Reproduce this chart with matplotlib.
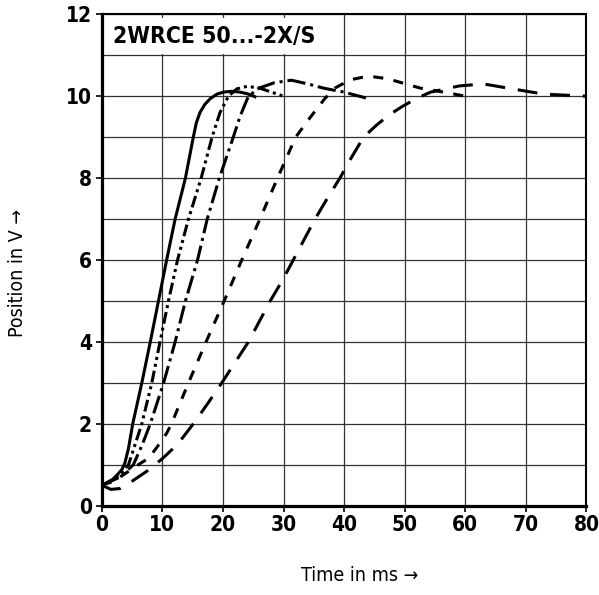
import matplotlib
matplotlib.use("Agg")
import matplotlib.pyplot as plt
from matplotlib import font_manager
from matplotlib.patches import Rectangle

# pick a narrow face that also has a bold weight, if one is installed
narrow_fonts = [f for f in font_manager.fontManager.ttflist
                if "Narrow" in f.name or "Condensed" in f.name
                or f.stretch in ("condensed", "semi-condensed", 75, 87.5)]
bold_names = sorted({f.name for f in narrow_fonts
                     if f.weight in ("bold", 700, "semibold", 600) and f.style == "normal"})
preferred = ["Liberation Sans Narrow", "DejaVu Sans", "Roboto Condensed", "Noto Sans",
             "Open Sans", "Lato", "Inter", "Roboto"]
family = [n for n in preferred if n in bold_names] + bold_names
plt.rcParams['font.family'] = family[:1] + ['DejaVu Sans']
plt.rcParams['font.stretch'] = 'condensed'

# Step responses (time in ms, position in V)
solid_t = [0, 1.5, 2.5, 3.3, 3.8, 4.4, 5.1, 6.6, 8.0, 9.35, 10.7, 12.1, 13.8, 15.1,
           15.6, 16.2, 17.0, 17.9, 19.0, 20.1, 21.5, 22.8, 24.0, 24.8, 25.5]
solid_v = [0.5, 0.6, 0.75, 0.88, 1.04, 1.4, 2.0, 3.0, 4.0, 5.0, 6.0, 7.0, 8.0, 9.0,
           9.35, 9.6, 9.8, 9.94, 10.05, 10.1, 10.12, 10.1, 10.06, 10.02, 9.97]

ddot_t = [0, 2.5, 4.4, 5.5, 6.6, 8.25, 9.6, 11.0, 12.5, 14.3, 16.4, 18.2, 19.5, 20.9,
          22.3, 24.0, 26.0, 28.0, 30.0]
ddot_v = [0.5, 0.7, 1.0, 1.5, 2.0, 3.0, 4.0, 5.0, 6.0, 7.0, 8.0, 9.0, 9.6, 10.0,
          10.18, 10.24, 10.2, 10.1, 10.0]

dashdot_t = [0, 3.0, 5.2, 6.7, 8.0, 10.2, 12.1, 13.8, 15.8, 17.4, 19.4, 21.7, 22.8,
             24.2, 26.0, 28.5, 31.3, 34.0, 36.5, 38.2, 40.0, 42.0, 44.0]
dashdot_v = [0.5, 0.7, 1.0, 1.5, 2.0, 3.0, 4.0, 5.0, 6.0, 7.0, 8.0, 9.0, 9.5,
             10.0, 10.2, 10.33, 10.39, 10.3, 10.2, 10.15, 10.1, 10.02, 9.94]

short_t = [0, 2.0, 4.0, 6.0, 7.7, 8.8, 9.6, 10.7, 11.5, 14.3, 17.2, 20.2, 23.1, 26.1,
           29.0, 32.0, 34.5, 36.8, 38.5, 41.0, 43.0, 45.0, 47.0, 49.0, 52.5, 56.4, 60.0]
short_v = [0.5, 0.6, 0.8, 1.0, 1.16, 1.37, 1.53, 1.77, 2.0, 3.0, 4.0, 5.0, 6.0, 7.0,
           8.0, 9.0, 9.5, 9.94, 10.2, 10.4, 10.46, 10.47, 10.43, 10.35, 10.2, 10.1, 10.0]

long_t = [0, 1.5, 3.0, 5.0, 7.5, 10.0, 12.5, 15.1, 17.5, 19.8, 22.0, 24.2, 26.0, 27.8,
          29.8, 31.6, 33.4, 35.2, 37.2, 39.3, 41.2, 43.2, 45.4, 47.5, 49.5, 52.0, 54.3,
          59.0, 63.0, 68.5, 73.0, 80.0]
long_v = [0.5, 0.4, 0.42, 0.6, 0.85, 1.15, 1.5, 2.0, 2.5, 3.0, 3.5, 4.0, 4.5, 5.0,
          5.5, 6.0, 6.5, 7.0, 7.5, 8.0, 8.5, 9.0, 9.3, 9.55, 9.74, 9.95, 10.1,
          10.25, 10.3, 10.16, 10.05, 10.0]

x_ticks = [0, 10, 20, 30, 40, 50, 60, 70, 80]
y_ticks = [0, 2, 4, 6, 8, 10, 12]
title = "2WRCE 50...-2X/S"

fig = plt.figure(figsize=(5.99, 5.95), dpi=100)
ax = fig.add_axes([0.170, 0.150, 0.809, 0.826])

lw = 2.2
ax.plot(solid_t, solid_v, color="black", lw=lw, solid_capstyle="butt", zorder=5)
ax.plot(ddot_t, ddot_v, color="black", lw=lw, dashes=(3.9, 1.3, 1, 1.3, 1, 1.3),
        dash_capstyle="butt", zorder=5)
ax.plot(dashdot_t, dashdot_v, color="black", lw=lw, dashes=(6, 1.6, 1, 1.6),
        dash_capstyle="butt", zorder=5)
ax.plot(short_t, short_v, color="black", lw=lw, dashes=(3.3, 3.4),
        dash_capstyle="butt", zorder=5)
ax.plot(long_t, long_v, color="black", lw=lw, dashes=(6.5, 4.2),
        dash_capstyle="butt", zorder=5)

ax.set_xlim(0, 80)
ax.set_ylim(0, 12)
ax.set_xticks(x_ticks)
ax.set_yticks(y_ticks)
ax.set_yticks(range(1, 12, 2), minor=True)
ax.tick_params(axis="both", which="major", direction="out", length=4, width=1.2,
               labelsize=15, pad=3)
ax.tick_params(axis="y", which="minor", length=0)
for lab in ax.get_xticklabels() + ax.get_yticklabels():
    lab.set_fontweight("bold")

ax.grid(True, which="both", color="0.2", lw=0.9, zorder=1)
ax.set_axisbelow(True)

for side in ["left", "bottom"]:
    ax.spines[side].set_linewidth(2.3)
for side in ["top", "right"]:
    ax.spines[side].set_linewidth(1.5)

# title box over the top grid row
ax.add_patch(Rectangle((0.15, 11.03), 38.0, 0.87, facecolor="white",
                       edgecolor="none", zorder=2))
ax.text(1.9, 11.46, title, fontsize=16.5, fontweight="bold", va="center",
        ha="left", zorder=3)

fig.text(0.601, 0.033, "Time in ms \u2192", fontsize=14, ha="center", va="center")
fig.text(0.030, 0.541, "Position in V \u2192", fontsize=14, ha="center",
         va="center", rotation=90)

fig.savefig("out.png", dpi=100)
